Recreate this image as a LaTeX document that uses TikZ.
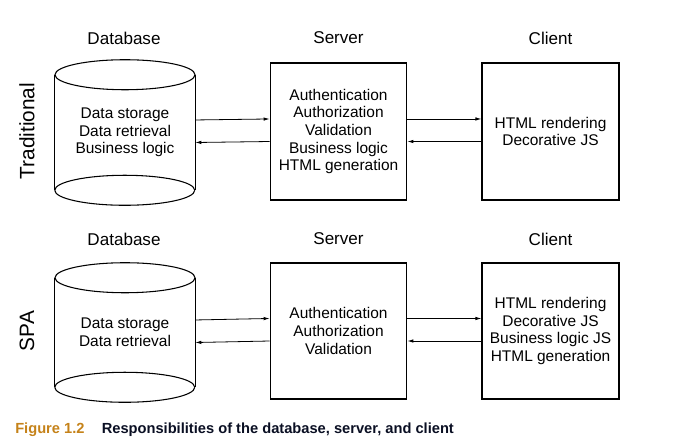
\documentclass[tikz,border=0pt]{standalone}
\usepackage{fontspec}
\setmainfont{Liberation Sans}
\usetikzlibrary{arrows.meta,calc}

\definecolor{figorange}{RGB}{197,130,25}
\definecolor{capnavy}{RGB}{10,15,35}

\tikzset{
  tier/.style={draw, line width=0.8pt, inner sep=0pt, align=center,
    font=\fontsize{11.6}{13.3}\selectfont},
  dbbody/.style={minimum width=105pt, inner sep=0pt, align=center,
    font=\fontsize{11.6}{13.3}\selectfont},
  head/.style={font=\fontsize{12.8}{14}\selectfont, inner sep=0.75pt},
  rowlabel/.style={font=\fontsize{15.6}{17}\selectfont, rotate=90, inner sep=0.75pt},
  flow/.style={line width=0.6pt, -{Latex[length=4.5pt,width=2.6pt]}},
}

\begin{document}
\begin{tikzpicture}[x=0.75pt,y=0.75pt,yscale=-1,xscale=1]
        \useasboundingbox (0,0) rectangle (698,447);

        % Row labels
        \draw (27,131) node [rowlabel] (trad) {Traditional};
        \draw (27,331) node [rowlabel] (spa) {SPA};

        % Headers
        \draw (124,38) node [head] (hdbA) {Database};
        \draw (338.5,38) node [head] (hsrvA) {Server};
        \draw (550.5,38) node [head] (hcliA) {Client};
        \draw (124,239) node [head] (hdbB) {Database};
        \draw (338.5,239) node [head] (hsrvB) {Server};
        \draw (550.5,239) node [head] (hcliB) {Client};

        %Traditional row
        \node [dbbody, minimum height=108.75pt] (dbA) at (125,132.5) {Data storage\\Data retrieval\\Business logic};
        \node [tier, minimum width=102.5pt, minimum height=102.75pt] (srvA) at (338.5,131.5) {Authentication\\Authorization\\Validation\\Business logic\\HTML generation};
        \node [tier, minimum width=102.75pt, minimum height=102.75pt] (cliA) at (550.5,131.5) {HTML rendering\\Decorative JS};

        %SPA row
        \node [dbbody, minimum height=104.25pt] (dbB) at (125,332.5) {Data storage\\Data retrieval};
        \node [tier, minimum width=102.5pt, minimum height=102pt] (srvB) at (338.5,331) {Authentication\\Authorization\\Validation};
        \node [tier, minimum width=102.75pt, minimum height=102pt] (cliB) at (550.5,331) {HTML rendering\\Decorative JS\\Business logic JS\\HTML generation};

        %Shape: Cylinders
        \foreach \db in {dbA,dbB}{
          \draw [line width=0.8pt] ($(\db.north west)+(0,15)$) -- ($(\db.south west)+(0,-15)$);
          \draw [line width=0.8pt] ($(\db.north east)+(0,15)$) -- ($(\db.south east)+(0,-15)$);
          \draw [line width=0.8pt] ($(\db.north)+(0,15)$) ellipse [x radius=70, y radius=15];
          \draw [line width=0.8pt] ($(\db.south west)+(0,-15)$) arc [start angle=180, end angle=360, x radius=70, y radius=15];
          \draw [line width=0.8pt] ($(\db.south west)+(0,-15)$) arc [start angle=180, end angle=0, x radius=70, y radius=15];
        }

        %Straight Lines: requests and responses
        \foreach \a/\b in {dbA/srvA,srvA/cliA,dbB/srvB,srvB/cliB}{
          \draw [flow] ([yshift=-9.4pt]\a.east) -- ([yshift=-9.4pt]\b.west);
          \draw [flow] ([yshift=7.5pt]\b.west) -- ([yshift=7.5pt]\a.east);
        }

        % Caption
        \draw (15,430) node [anchor=west, inner sep=0pt, font=\bfseries\fontsize{11}{13}\selectfont, text=figorange] (fig) {Figure 1.2};
        \draw (101.5,430) node [anchor=west, inner sep=0pt, font=\bfseries\fontsize{11}{13}\selectfont, text=capnavy] (cap) {Responsibilities of the database, server, and client};

\end{tikzpicture}
\end{document}
